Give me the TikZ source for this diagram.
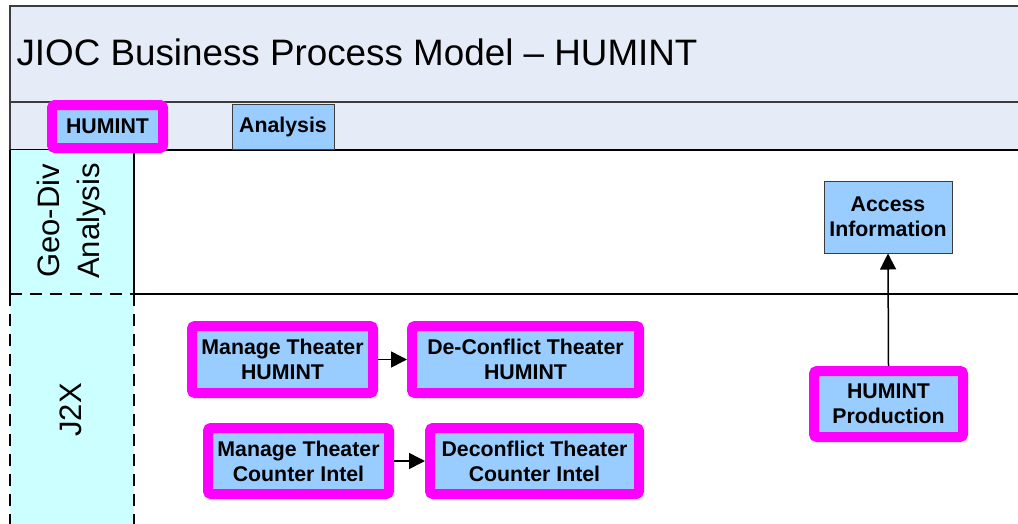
\documentclass[tikz,border=0pt]{standalone}
\usepackage{fontspec}
\setmainfont{Liberation Sans}
\usetikzlibrary{arrows.meta}
\definecolor{bandfill}{RGB}{230,236,247}
\definecolor{lanefill}{RGB}{204,255,255}
\definecolor{procfill}{RGB}{153,204,255}
\definecolor{hilite}{RGB}{255,0,255}
\definecolor{edgegray}{RGB}{60,60,60}
\tikzset{
  proc/.style={fill=procfill, draw=edgegray, line width=1pt, align=center,
    inner sep=0pt, font=\bfseries\fontsize{21.3}{25}\selectfont},
  hiproc/.style={proc, draw=hilite, line width=10pt, rounded corners=3pt},
  flow/.style={line width=1.5pt, -{Triangle[length=16pt,width=16pt]}},
  lanelabel/.style={rotate=90, align=center, font=\fontsize{31}{40}\selectfont},
  lanedash/.style={line width=1.5pt, dash pattern=on 12pt off 8pt}
}
\begin{document}
\begin{tikzpicture}[x=1pt,y=-1pt]
\useasboundingbox (0,0) rectangle (1018,523);
% header bands
\fill[bandfill] (10,6) rectangle (1030,150);
\draw[edgegray, line width=1.5pt] (1030,6) -- (10,6) -- (10,150);
\draw[edgegray, line width=1.5pt] (10,102) -- (1030,102);
\draw[black, line width=2pt] (10,150) -- (1030,150);
\node[anchor=base west, font=\fontsize{36.8}{44}\selectfont] (title) at (13,65)
  {JIOC Business Process Model – HUMINT};
% lane headers
\fill[lanefill] (10,150) rectangle (134,530);
\draw[black, line width=1.5pt] (10,150) -- (10,294);
\draw[black, line width=1.5pt] (134,150) -- (134,294);
\draw[black, line width=1.5pt] (134,294) -- (1030,294);
\draw[lanedash] (10,294) -- (134,294);
\draw[lanedash] (10,294) -- (10,530);
\draw[lanedash] (134,294) -- (134,530);
\node[lanelabel] (geodiv) at (71,221) {Geo-Div\\Analysis};
\node[lanelabel] (j2x) at (71,410) {J2X};
% tabs
\node[hiproc, minimum width=111pt, minimum height=43pt] (tabhumint) at (107.5,126.5) {HUMINT};
\node[proc, minimum width=102pt, minimum height=45pt] (tabanalysis) at (283,126.5) {Analysis};
% processes
\node[proc, minimum width=128pt, minimum height=72pt] (access) at (888,217) {Access\\Information};
\node[hiproc, minimum width=149pt, minimum height=66pt] (prod) at (888.5,404) {HUMINT\\Production};
\node[hiproc, minimum width=181pt, minimum height=67pt] (mth) at (282.5,359.5) {Manage Theater\\HUMINT};
\node[hiproc, minimum width=227pt, minimum height=67pt] (dth) at (525.5,359.5) {De-Conflict Theater\\HUMINT};
\node[hiproc, minimum width=181pt, minimum height=66pt] (mci) at (298.5,461) {Manage Theater\\Counter Intel};
\node[hiproc, minimum width=209pt, minimum height=66pt] (dci) at (534.5,461) {Deconflict Theater\\Counter Intel};
% connectors
\draw[flow] (mth.east) -- (dth.west);
\draw[flow] (mci.east) -- (dci.west);
\draw[flow] (prod.north) -- (access.south);
\end{tikzpicture}
\end{document}
